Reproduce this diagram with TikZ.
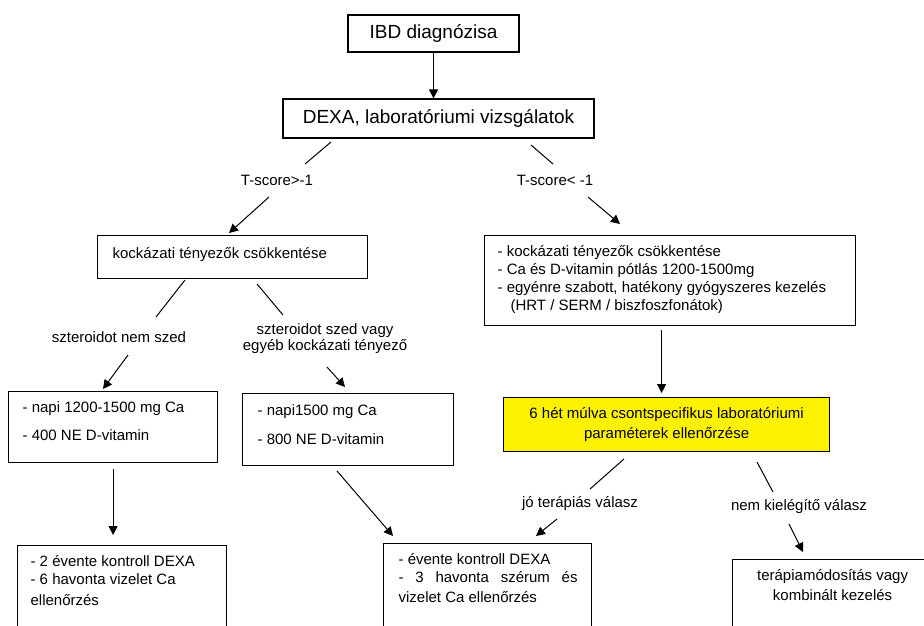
\documentclass[tikz,border=0pt]{standalone}
\usepackage{fontspec}
\setmainfont{Liberation Sans}
\usepackage{tikz}
\usetikzlibrary{arrows.meta, calc}

% text block of a box: width, height, top gap, left gap, lines
\newcommand{\leftlines}[5]{\parbox[t][#2][t]{#1}{\vspace*{#3}\leftskip=#4\relax\strut#5}}
\newcommand{\midlines}[4]{\parbox[t][#2][t]{#1}{\vspace*{#3}\centering\strut#4}}

\tikzset{
  bigbox/.style = {draw, line width=1.2pt, inner sep=0pt, font=\fontsize{19}{22}\selectfont},
  box/.style = {draw, line width=1.2pt, inner sep=0pt, anchor=north west, font=\fontsize{15}{18}\selectfont},
  lbl/.style = {inner sep=0pt, align=center, font=\fontsize{15}{18}\selectfont},
  arr/.style = {-{Triangle[length=9pt, width=9pt]}},
}

\begin{document}
\begin{tikzpicture}[x=1pt, y=-1pt, line width=1pt]
    % fix the frame of the page
    \useasboundingbox (0,0) rectangle (924,626);
    \clip (0,0) rectangle (924,626);

    % draw the two top boxes
    \node[bigbox, minimum width=171pt, minimum height=37pt] (diag) at (433.5,33.5) {IBD diagnózisa};
    \node[bigbox, minimum width=311pt, minimum height=39pt] (dexa) at (438.5,118.5) {DEXA, laboratóriumi vizsgálatok};

    % draw the boxes of both branches
    \node[box] (kockL) at (97,235) {\leftlines{270pt}{43pt}{10.4pt}{15pt}{kockázati tényezők csökkentése}};
    \node[box] (kockR) at (484,235) {\leftlines{371pt}{90pt}{8.4pt}{13pt}{- kockázati tényezők csökkentése\\- Ca és D-vitamin pótlás 1200-1500mg\\- egyénre szabott, hatékony gyógyszeres kezelés\\\hspace*{13pt}(HRT / SERM / biszfoszfonátok)}};
    \node[box, fill=yellow] (params) at (503,397) {\midlines{326pt}{54pt}{8.4pt}{6 hét múlva csontspecifikus laboratóriumi\\[2pt]paraméterek ellenőrzése}};
    \node[box] (napiA) at (8,391) {\leftlines{209pt}{71pt}{8.4pt}{14pt}{- napi 1200-1500 mg Ca\\[10pt]- 400 NE D-vitamin}};
    \node[box] (napiB) at (242,393) {\leftlines{211pt}{72pt}{9.4pt}{15pt}{- napi1500 mg Ca\\[11pt]- 800 NE D-vitamin}};

    % draw the bottom boxes, cut by the frame
    \node[box] (ctrlA) at (17,545) {\leftlines{209pt}{100pt}{8.4pt}{13pt}{- 2 évente kontroll DEXA\\- 6 havonta vizelet Ca\\[3pt]ellenőrzés}};
    \node[box] (ctrlB) at (383,543) {\leftlines{208pt}{100pt}{8.4pt}{15pt}{- évente kontroll DEXA\\\makebox[179pt][s]{- 3 havonta szérum és}\\[2pt]vizelet Ca ellenőrzés}};
    \node[box] (modify) at (732,559) {\midlines{200pt}{100pt}{8.4pt}{terápiamódosítás vagy\\[2pt]kombinált kezelés}};

    % draw the branch labels
    \node[lbl] (tsL) at (277,180) {T-score>-1};
    \node[lbl] (tsR) at (555,180) {T-score< -1};
    \node[lbl] (sNo) at (119,337) {szteroidot nem szed};
    \node[lbl, font=\fontsize{15}{16}\selectfont] (sYes) at (325,339) {szteroidot szed vagy\\egyéb kockázati tényező};
    \node[lbl] (good) at (580,504) {jó terápiás válasz};
    \node[lbl] (bad) at (799,507) {nem kielégítő válasz};

    % ends of the broken connectors
    \coordinate (tsL-a) at (331,142);  \coordinate (tsL-b) at (305,164);
    \coordinate (tsL-c) at (269,197);  \coordinate (tsL-d) at (229,233);
    \coordinate (tsR-a) at (531,145);  \coordinate (tsR-b) at (553,164);
    \coordinate (tsR-c) at (588,197);  \coordinate (tsR-d) at (620,224);
    \coordinate (sNo-a) at (185,280);  \coordinate (sNo-b) at (156,317);
    \coordinate (sNo-c) at (128,355);  \coordinate (sNo-d) at (103,389);
    \coordinate (sYes-a) at (257,284); \coordinate (sYes-b) at (283,315);
    \coordinate (sYes-c) at (327,367); \coordinate (sYes-d) at (345,387);
    \coordinate (good-a) at (624,459); \coordinate (good-b) at (590,489);
    \coordinate (good-c) at (557,519); \coordinate (good-d) at (536,536);
    \coordinate (bad-a) at (757,462);  \coordinate (bad-b) at (773,492);
    \coordinate (bad-c) at (789,524);  \coordinate (bad-d) at (803,552);
    \coordinate (napiB-out) at (337,471); \coordinate (ctrlB-in) at (393,536);

    % draw connectors
    \draw[arr] (diag.south) -- (diag.south |- dexa.north);
    \draw (tsL-a) -- (tsL-b);   \draw[arr] (tsL-c) -- (tsL-d);
    \draw (tsR-a) -- (tsR-b);   \draw[arr] (tsR-c) -- (tsR-d);
    \draw (sNo-a) -- (sNo-b);   \draw[arr] (sNo-c) -- (sNo-d);
    \draw (sYes-a) -- (sYes-b); \draw[arr] (sYes-c) -- (sYes-d);
    \draw (good-a) -- (good-b); \draw[arr] (good-c) -- (good-d);
    \draw (bad-a) -- (bad-b);   \draw[arr] (bad-c) -- (bad-d);
    \draw[arr, shorten <=6pt, shorten >=10pt] (napiA.south) -- (napiA.south |- ctrlA.north);
    \draw[arr] (napiB-out) -- (ctrlB-in);
    \draw[arr] ($(kockR.south -| params.north)+(-5,4)$) -- ($(params.north)+(-5,-4)$);
\end{tikzpicture}
\end{document}
